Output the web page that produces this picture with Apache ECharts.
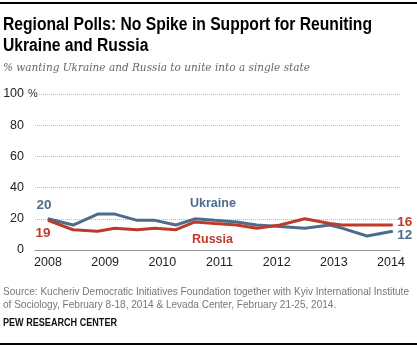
<!DOCTYPE html>
<html>
<head>
<meta charset="utf-8">
<script src="https://cdn.jsdelivr.net/npm/echarts@6/dist/echarts.min.js"></script>
<style>
  html, body { margin: 0; padding: 0; background: #fff; }
  #chart { width: 417px; height: 348px; }
</style>
</head>
<body>
<div id="chart"></div>
<script>
// Poll dates (fractional years) and share wanting to unite, per country
const pollDates = [2008.0, 2008.44, 2008.87, 2009.17, 2009.56, 2009.87, 2010.24, 2010.57,
                   2010.92, 2011.30, 2011.65, 2012.06, 2012.49, 2012.93, 2013.14, 2013.58, 2014.03];
const ukraine = [20, 16, 23, 23, 19, 19, 16, 20, 19, 18, 16, 15, 14, 16, 14, 9, 12];
const russia  = [19, 13, 12, 14, 13, 14, 13, 18, 17, 16, 14, 16, 20, 17, 16, 16, 16];
const yearLabels = [2008, 2009, 2010, 2011, 2012, 2013, 2014];
const yTicks = [0, 20, 40, 60, 80, 100];

const blue = '#4b6d8b';
const red = '#be3a2a';

// Horizontal squeeze so a text block fits a given width (condensed look)
const measureCtx = document.createElement('canvas').getContext('2d');
function fitScale(text, font, width) {
  measureCtx.font = font;
  const w = Math.max(...text.split('\n').map(l => measureCtx.measureText(l).width));
  return Math.min(1, width / w);
}

function pairs(values, firstLabel, lastLabel) {
  return values.map((v, i) => {
    const item = { value: [pollDates[i], v] };
    if (i === 0) item.label = firstLabel;
    if (i === values.length - 1) item.label = lastLabel;
    return item;
  });
}

const numFont = { fontFamily: 'Liberation Sans', fontSize: 13.5, fontWeight: 'bold' };

const titleText = 'Regional Polls: No Spike in Support for Reuniting\nUkraine and Russia';
const titleFont = 'bold 17.5px "Liberation Sans"';
const sourceText = 'Source: Kucheriv Democratic Initiatives Foundation together with Kyiv International Institute\nof Sociology, February 8-18, 2014 & Levada Center, February 21-25, 2014.';
const sourceFont = '11px "Liberation Sans"';
const pewText = 'PEW RESEARCH CENTER';
const pewFont = 'bold 10.5px "Liberation Sans"';

const chart = echarts.init(document.getElementById('chart'), null, { renderer: 'canvas' });
chart.setOption({
  animation: false,
  grid: { left: 35, right: 17, top: 94, bottom: 98, containLabel: false },
  xAxis: {
    type: 'value',
    min: 2007.773,
    max: 2014.157,
    axisLine: { show: true, lineStyle: { color: '#999', width: 1 } },
    axisTick: { show: false },
    splitLine: { show: false },
    axisLabel: {
      customValues: yearLabels,
      formatter: v => String(v),
      color: '#222',
      fontFamily: 'Liberation Sans',
      fontSize: 12.5,
      margin: 6
    }
  },
  yAxis: {
    type: 'value',
    min: 0,
    max: 100,
    interval: 20,
    axisLine: { show: false },
    axisTick: { show: false },
    splitLine: {
      show: true,
      lineStyle: { color: '#bbb', type: [1, 1], width: 1 },
      showMinLine: false
    },
    axisLabel: {
      color: '#222',
      fontFamily: 'Liberation Sans',
      fontSize: 12.5,
      margin: 11,
      formatter: v => yTicks.includes(v) ? String(v) : ''
    }
  },
  series: [
    {
      name: 'Ukraine',
      type: 'line',
      symbol: 'circle',
      symbolSize: 1,
      showAllSymbol: true,
      itemStyle: { color: blue },
      lineStyle: { color: blue, width: 3 },
      z: 2,
      data: pairs(ukraine,
        { show: true, position: 'top', offset: [-4, -1], color: blue, formatter: '{@[1]}', ...numFont },
        { show: true, position: 'right', distance: 4, offset: [0, 4], color: blue, formatter: '{@[1]}', ...numFont })
    },
    {
      name: 'Russia',
      type: 'line',
      symbol: 'circle',
      symbolSize: 1,
      showAllSymbol: true,
      itemStyle: { color: red },
      lineStyle: { color: red, width: 3 },
      z: 3,
      data: pairs(russia,
        { show: true, position: 'bottom', offset: [-5, 0], color: red, formatter: '{@[1]}', ...numFont },
        { show: true, position: 'right', distance: 4, offset: [0, -3], color: red, formatter: '{@[1]}', ...numFont })
    }
  ],
  graphic: [
    { type: 'rect', shape: { x: 0, y: 2, width: 417, height: 2 }, style: { fill: '#000' } },
    { type: 'rect', shape: { x: 0, y: 343, width: 417, height: 2 }, style: { fill: '#000' } },
    {
      type: 'text', x: 3, y: 15, scaleX: fitScale(titleText, titleFont, 369),
      style: {
        text: titleText,
        fill: '#000', font: titleFont, lineHeight: 21
      }
    },
    {
      type: 'text', x: 3, y: 63,
      style: {
        text: '% wanting Ukraine and Russia to unite into a single state',
        fill: '#666', fontFamily: 'DejaVu Serif', fontStyle: 'italic', fontSize: 10.5
      }
    },
    {
      type: 'text', x: 28, y: 88,
      style: { text: '%', fill: '#333', fontFamily: 'Liberation Sans', fontSize: 11 }
    },
    {
      type: 'text', x: 190, y: 197,
      style: { text: 'Ukraine', fill: blue, fontFamily: 'Liberation Sans', fontWeight: 'bold', fontSize: 12.5 }
    },
    {
      type: 'text', x: 192, y: 233,
      style: { text: 'Russia', fill: red, fontFamily: 'Liberation Sans', fontWeight: 'bold', fontSize: 12.5 }
    },
    {
      type: 'text', x: 3, y: 285, scaleX: fitScale(sourceText, sourceFont, 406),
      style: {
        text: sourceText,
        fill: '#777', font: sourceFont, lineHeight: 13
      }
    },
    {
      type: 'text', x: 3, y: 318, scaleX: fitScale(pewText, pewFont, 114),
      style: {
        text: pewText,
        fill: '#111', font: pewFont
      }
    }
  ]
});
</script>
</body>
</html>
